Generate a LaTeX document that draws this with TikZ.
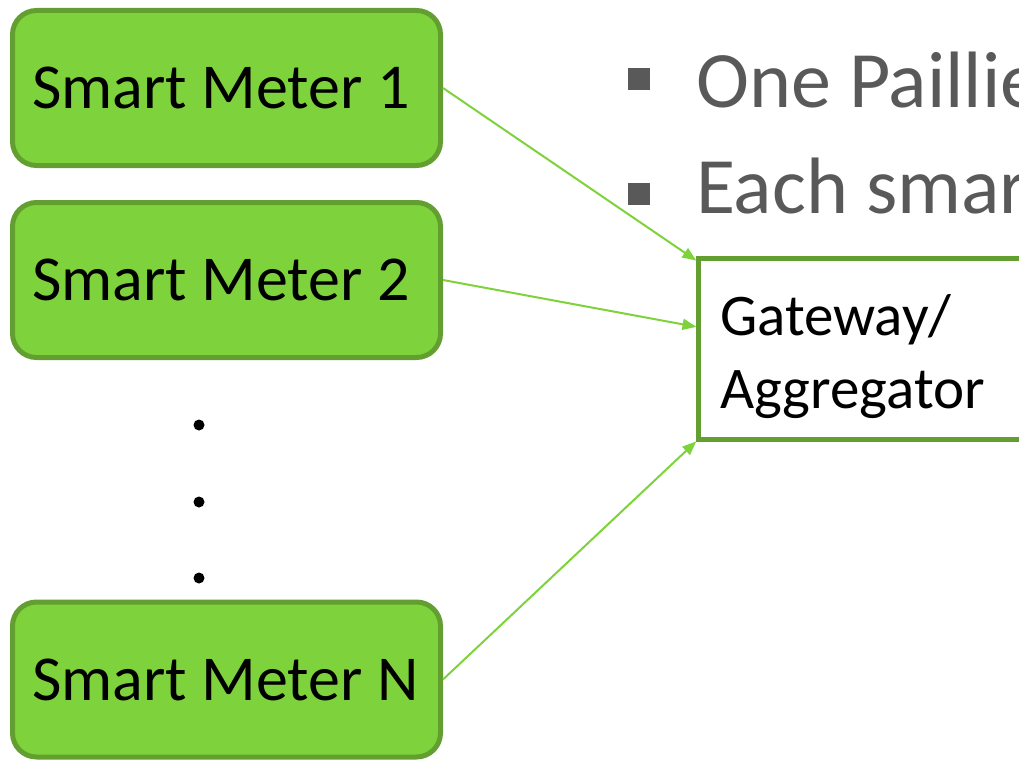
\documentclass[tikz,border=0pt]{standalone}
\usepackage{fontspec}
\setmainfont{Carlito}
\usetikzlibrary{arrows.meta,calc}
\definecolor{meterfill}{RGB}{126,211,60}
\definecolor{meteredge}{RGB}{98,158,48}
\definecolor{linkgreen}{RGB}{126,211,60}
\definecolor{bulletgray}{RGB}{89,89,89}
\tikzset{
  meter/.style={draw=meteredge, fill=meterfill, line width=5pt, rounded corners=24pt,
    minimum width=428pt, minimum height=155pt, inner sep=0pt},
  metertext/.style={font=\fontsize{64}{76}\selectfont, inner sep=0pt, anchor=base west},
  gatebox/.style={draw=meteredge, line width=5pt, fill=white,
    minimum width=420pt, minimum height=181pt, inner sep=0pt},
  gatetext/.style={font=\fontsize{59}{73}\selectfont, align=left, inner sep=0pt, anchor=base west},
  link/.style={draw=linkgreen, line width=2pt, -{Triangle[length=14pt,width=11pt]}, shorten >=-1pt},
  dotmark/.style={circle, fill=black, minimum size=11pt, inner sep=0pt},
  bulletmark/.style={fill=bulletgray, minimum size=22pt, inner sep=0pt},
  bullettext/.style={font=\fontsize{80}{96}\selectfont, text=bulletgray, anchor=base west, inner sep=0pt}
}
\begin{document}
\begin{tikzpicture}[x=1pt,y=-1pt]
  \useasboundingbox (0,0) rectangle (1019,760);
  \clip (0,0) rectangle (1019,760);

  % bullet list
  \node[bulletmark] (b1) at (639,79) {};
  \node[bullettext] (t1) at (696,107) {One Paillie};
  \node[bulletmark] (b2) at (639,194) {};
  \node[bullettext] (t2) at (696,213) {Each smar};

  % aggregator
  \node[gatebox] (g) at (908,349) {};
  \node[gatetext] (gt) at (720,408) {Gateway/\\Aggregator};

  % smart meters
  \node[meter] (m1) at (226.5,88) {};
  \node[metertext] (m1t) at (32,108) {Smart Meter 1};
  \node[meter] (m2) at (226.5,280) {};
  \node[metertext] (m2t) at (32,300) {Smart Meter 2};
  \node[meter] (mn) at (226.5,679.5) {};
  \node[metertext] (mnt) at (32,700) {Smart Meter N};

  % vertical ellipsis
  \node[dotmark] (d1) at (199,425) {};
  \node[dotmark] (d2) at (199,502) {};
  \node[dotmark] (d3) at (199,578) {};

  % connections
  \draw[link] (m1.east) -- ($(g.north west)+(0,4)$);
  \draw[link] (m2.east) -- ($(g.north west)!0.38!(g.south west)$);
  \draw[link] (mn.east) -- (g.south west);
\end{tikzpicture}
\end{document}
